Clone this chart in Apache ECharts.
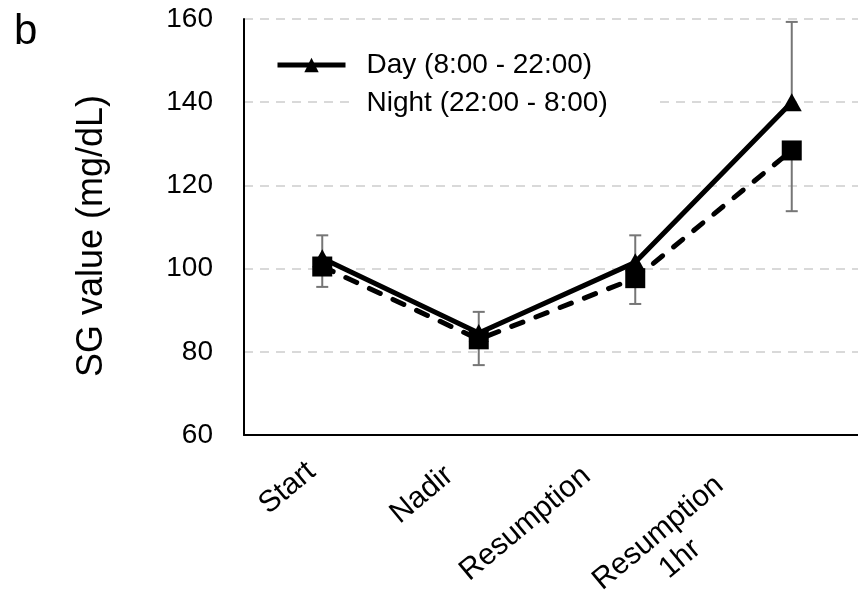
<!DOCTYPE html>
<html>
<head>
<meta charset="utf-8">
<script src="https://cdn.jsdelivr.net/npm/echarts@6/dist/echarts.min.js"></script>
<style>
html,body{margin:0;padding:0;background:#fff;}
#chart{width:858px;height:590px;}
</style>
</head>
<body>
<div id="chart"></div>
<script>
// ---- data ----
const categories = ['Start', 'Nadir', 'Resumption', 'Resumption\n1hr'];
const dayMean   = [102.5, 84.5, 101.5, 140.0];
const dayErr    = [5.5, 5.1, 6.5, 19.3];     // upper error bar
const nightMean = [100.5, 83.0, 97.7, 128.4];
const nightErr  = [4.9, 6.2, 6.2, 14.6];     // lower error bar
const yMin = 60, yMax = 160, yStep = 20;
const seriesNames = ['Day (8:00 - 22:00)', 'Night (22:00 - 8:00)'];
const yTitle = 'SG value (mg/dL)';
const panelLetter = 'b';

// ---- layout (label nudges: [shift along baseline, shift perpendicular up]) ----
const labelNudge = [[8, 7], [25, 16], [40, 28], [64, 19]];

const FONT = 'Liberation Sans, Arial, sans-serif';
const tickSize = 28;
const catSize = 30;

function textWidth(t, size) {
  const c = document.createElement('canvas').getContext('2d');
  c.font = size + 'px ' + FONT;
  return c.measureText(t).width;
}

const chart = echarts.init(document.getElementById('chart'), null, {renderer: 'canvas'});

function errRender(sign) {
  return function (params, api) {
    const x = api.value(0), v = api.value(1), e = api.value(2);
    const p0 = api.coord([x, v]);
    const p1 = api.coord([x, v + sign * e]);
    const cap = 6;
    const st = {stroke: '#767676', lineWidth: 2};
    return {
      type: 'group',
      children: [
        {type: 'line', shape: {x1: p0[0], y1: p0[1], x2: p1[0], y2: p1[1]}, style: st},
        {type: 'line', shape: {x1: p1[0] - cap, y1: p1[1], x2: p1[0] + cap, y2: p1[1]}, style: st}
      ]
    };
  };
}

const longW = Math.max.apply(null, categories.map(c => Math.max.apply(null, c.split('\n').map(s => textWidth(s, catSize)))));

const xData = categories.map((c, i) => ({
  value: c,
  textStyle: {padding: [0, labelNudge[i][0], 2 * labelNudge[i][1], 0]}
}));

const option = {
  backgroundColor: '#fff',
  animation: false,
  textStyle: {fontFamily: FONT},
  graphic: [{
    type: 'text', left: 14, top: 11,
    style: {text: panelLetter, fontSize: 42, fontFamily: FONT, fill: '#000'}
  }],
  grid: {left: 244, top: 19, width: 626, bottom: 155, containLabel: false, outerBoundsMode: 'none'},
  legend: {
    orient: 'vertical',
    left: 275, top: 49,
    padding: 0,
    itemWidth: 68, itemHeight: 18,
    itemGap: 6,
    textStyle: {fontSize: 28, fontFamily: FONT, color: '#000', backgroundColor: '#fff', padding: [2, 52, 2, 16]},
    data: [
      {name: seriesNames[0], lineStyle: {width: 5, color: '#000'}},
      {name: seriesNames[1], icon: 'none'}
    ]
  },
  xAxis: {
    type: 'category',
    data: xData,
    boundaryGap: true,
    axisLine: {lineStyle: {color: '#000', width: 2}},
    axisTick: {show: false},
    axisLabel: {
      rotate: 40, margin: 33, color: '#000', fontSize: catSize, fontFamily: FONT,
      interval: 0,
      formatter: function (v) {
        const parts = v.split('\n');
        if (parts.length === 1) return v;
        return parts.map(p => '{c|' + p + '}').join('\n');
      },
      rich: {c: {width: longW, align: 'center', fontSize: catSize, fontFamily: FONT, color: '#000', lineHeight: 34}}
    }
  },
  yAxis: {
    type: 'value',
    min: yMin, max: yMax, interval: yStep,
    name: yTitle, nameLocation: 'middle', nameRotate: 90, nameGap: 134,
    nameTextStyle: {fontSize: 36, fontFamily: FONT, color: '#000', padding: [0, 18, 0, 0]},
    axisLine: {show: true, lineStyle: {color: '#000', width: 2}},
    axisTick: {show: false},
    axisLabel: {color: '#000', fontSize: tickSize, fontFamily: FONT, margin: 31},
    splitLine: {lineStyle: {color: '#d9d9d9', width: 2, type: [9, 7]}}
  },
  series: [
    {
      name: seriesNames[0], type: 'line', data: dayMean,
      symbol: 'triangle', symbolSize: [20, 18],
      lineStyle: {color: '#000', width: 5},
      itemStyle: {color: '#000'},
      z: 3
    },
    {
      name: seriesNames[1], type: 'line', data: nightMean,
      symbol: 'rect', symbolSize: 20,
      lineStyle: {color: '#000', width: 5, type: [12, 14], cap: 'round'},
      itemStyle: {color: '#000'},
      z: 4
    },
    {
      type: 'custom', name: 'dayErr', z: 2,
      renderItem: errRender(1),
      data: dayMean.map((v, i) => [i, v, dayErr[i]]),
      encode: {x: 0, y: 1}
    },
    {
      type: 'custom', name: 'nightErr', z: 2,
      renderItem: errRender(-1),
      data: nightMean.map((v, i) => [i, v, nightErr[i]]),
      encode: {x: 0, y: 1}
    }
  ]
};
chart.setOption(option);
</script>
</body>
</html>
